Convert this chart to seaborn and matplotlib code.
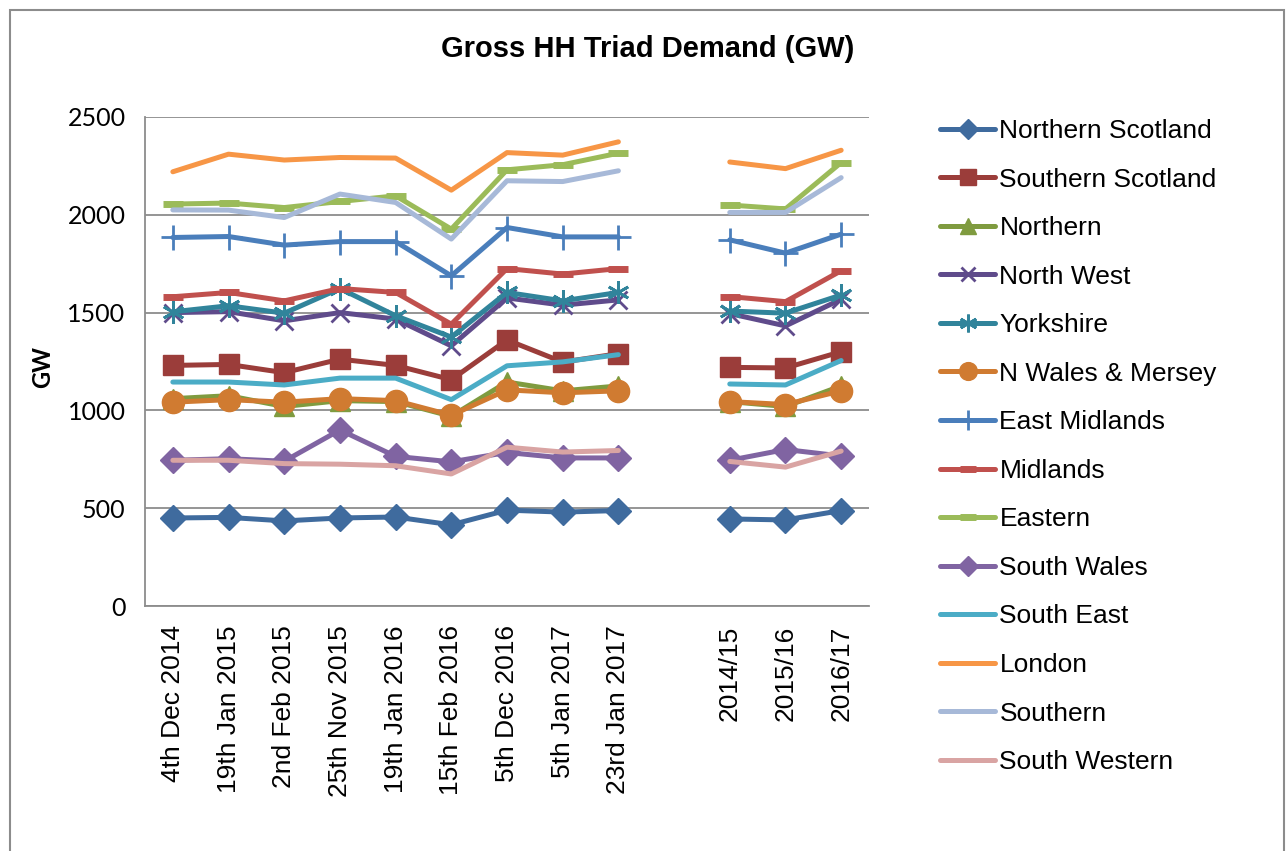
import numpy as np
import matplotlib
matplotlib.use('Agg')
import matplotlib.pyplot as plt
import seaborn as sns
from matplotlib.patches import Rectangle

sns.set_theme(style='white')
plt.rcParams['font.family'] = ['Liberation Sans', 'DejaVu Sans']
plt.rcParams['text.color'] = 'black'
plt.rcParams['xtick.color'] = 'black'
plt.rcParams['ytick.color'] = 'black'
plt.rcParams['axes.labelcolor'] = 'black'

# categories
triad_dates = ['4th Dec 2014', '19th Jan 2015', '2nd Feb 2015', '25th Nov 2015',
               '19th Jan 2016', '15th Feb 2016', '5th Dec 2016', '5th Jan 2017',
               '23rd Jan 2017']
years = ['2014/15', '2015/16', '2016/17']

# values (GW): 9 triad dates, then 3 yearly averages
northern_scotland = [450, 453, 435, 450, 455, 415, 490, 480, 488, 445, 440, 488]
southern_scotland = [1230, 1235, 1193, 1262, 1230, 1157, 1360, 1247, 1290, 1220, 1217, 1300]
northern = [1060, 1075, 1020, 1050, 1045, 970, 1145, 1100, 1125, 1045, 1020, 1125]
north_west = [1500, 1505, 1458, 1500, 1467, 1330, 1575, 1538, 1565, 1495, 1432, 1568]
yorkshire = [1504, 1535, 1497, 1623, 1484, 1375, 1603, 1560, 1603, 1508, 1497, 1590]
n_wales_mersey = [1042, 1055, 1042, 1060, 1050, 975, 1105, 1090, 1100, 1045, 1030, 1100]
east_midlands = [1884, 1889, 1845, 1863, 1863, 1688, 1935, 1887, 1887, 1872, 1804, 1901]
midlands = [1581, 1603, 1560, 1623, 1603, 1441, 1725, 1697, 1725, 1582, 1556, 1714]
eastern = [2055, 2060, 2037, 2068, 2097, 1927, 2230, 2256, 2315, 2050, 2030, 2267]
south_wales = [745, 753, 740, 900, 765, 737, 785, 757, 757, 745, 800, 767]
south_east = [1145, 1145, 1130, 1165, 1165, 1055, 1228, 1248, 1285, 1135, 1130, 1255]
london = [2220, 2310, 2280, 2293, 2290, 2126, 2318, 2305, 2373, 2270, 2236, 2330]
southern = [2025, 2024, 1986, 2106, 2063, 1876, 2174, 2170, 2225, 2012, 2012, 2190]
south_western = [745, 745, 728, 725, 717, 675, 812, 787, 795, 739, 710, 792]

regions = ['Northern Scotland', 'Southern Scotland', 'Northern', 'North West',
           'Yorkshire', 'N Wales & Mersey', 'East Midlands', 'Midlands', 'Eastern',
           'South Wales', 'South East', 'London', 'Southern', 'South Western']
series = [northern_scotland, southern_scotland, northern, north_west, yorkshire,
          n_wales_mersey, east_midlands, midlands, eastern, south_wales,
          south_east, london, southern, south_western]

# styles: colour, marker, markersize, marker edge width
styles = [
    ('#3F6B9E', 'D', 13, 1),
    ('#9B3D3A', 's', 15, 1),
    ('#7F9B3F', '^', 14, 1),
    ('#5F4B8B', 'x', 13, 2),
    ('#31849B', (6, 2, 0), 16, 2),
    ('#D07B31', 'o', 16, 1),
    ('#4A7EBB', '+', 18, 2),
    ('#C0504D', '_', 14, 5),
    ('#9BBB59', '_', 14, 5),
    ('#8064A2', 'D', 13, 1),
    ('#4BACC6', None, 0, 0),
    ('#F79646', None, 0, 0),
    ('#A7B9D8', None, 0, 0),
    ('#D9A4A3', None, 0, 0),
]

n_dates = len(triad_dates)
x_triad = np.arange(n_dates)
x_years = np.arange(n_dates + 1, n_dates + 1 + len(years))

fig = plt.figure(figsize=(12.87, 8.51), dpi=100)
ax = fig.add_axes([145 / 1287, 1 - 606 / 851, 724 / 1287, 489 / 851])

# each series drawn as two pieces: triad dates, then yearly averages
for name, vals, (col, mk, ms, mew) in zip(regions, series, styles):
    for i, (xs, ys) in enumerate([(x_triad, vals[:n_dates]), (x_years, vals[n_dates:])]):
        sns.lineplot(x=xs, y=ys, ax=ax, color=col, linewidth=3.6,
                     marker=mk, markersize=ms, markeredgewidth=mew,
                     markeredgecolor=col, markerfacecolor=col,
                     label=name if i == 0 else '_nolegend_', legend=False,
                     solid_capstyle='round', solid_joinstyle='round')

ax.set_xlim(-0.5, n_dates + len(years) + 0.5)
ax.set_ylim(0, 2500)
ax.set_yticks(range(0, 2501, 500))
ax.set_xticks(list(x_triad) + list(x_years))
ax.set_xticklabels(triad_dates + years, rotation=90, fontsize=19)
ax.tick_params(axis='x', length=0, pad=14)
ax.tick_params(axis='y', length=0, pad=14)
for lab in ax.get_yticklabels():
    lab.set_family(['Lato', 'DejaVu Sans'])
    lab.set_fontsize(18)

ax.grid(axis='y', color='#8C8C8C', linewidth=1.3)
ax.grid(axis='x', visible=False)
ax.set_axisbelow(True)
for side in ['top', 'right']:
    ax.spines[side].set_visible(False)
for side in ['left', 'bottom']:
    ax.spines[side].set_color('#8C8C8C')
    ax.spines[side].set_linewidth(1.3)

ax.set_xlabel('')
ax.set_ylabel('GW', fontsize=17, fontweight='bold', family=['Lato', 'DejaVu Sans'],
              va='center')
ax.yaxis.set_label_coords((43 - 145) / 724, (606 - 367) / 489)

fig.text(648 / 1287, 1 - 49 / 851, 'Gross HH Triad Demand (GW)', ha='center',
         va='center', fontsize=21, fontweight='bold')

handles, labels = ax.get_legend_handles_labels()
fig.legend(handles, labels, loc='upper left', bbox_to_anchor=(940 / 1287, 1 - 119 / 851),
           frameon=False, fontsize=19, handlelength=2.1, handletextpad=0.15,
           labelspacing=0.93, borderpad=0, borderaxespad=0, numpoints=1,
           markerscale=0.8)

fig.patches.append(Rectangle((10 / 1287, -0.05), 1274 / 1287, 1.05 - 10 / 851,
                             transform=fig.transFigure, fill=False,
                             edgecolor='#8C8C8C', linewidth=1.5))

fig.savefig('out.png', dpi=100)
